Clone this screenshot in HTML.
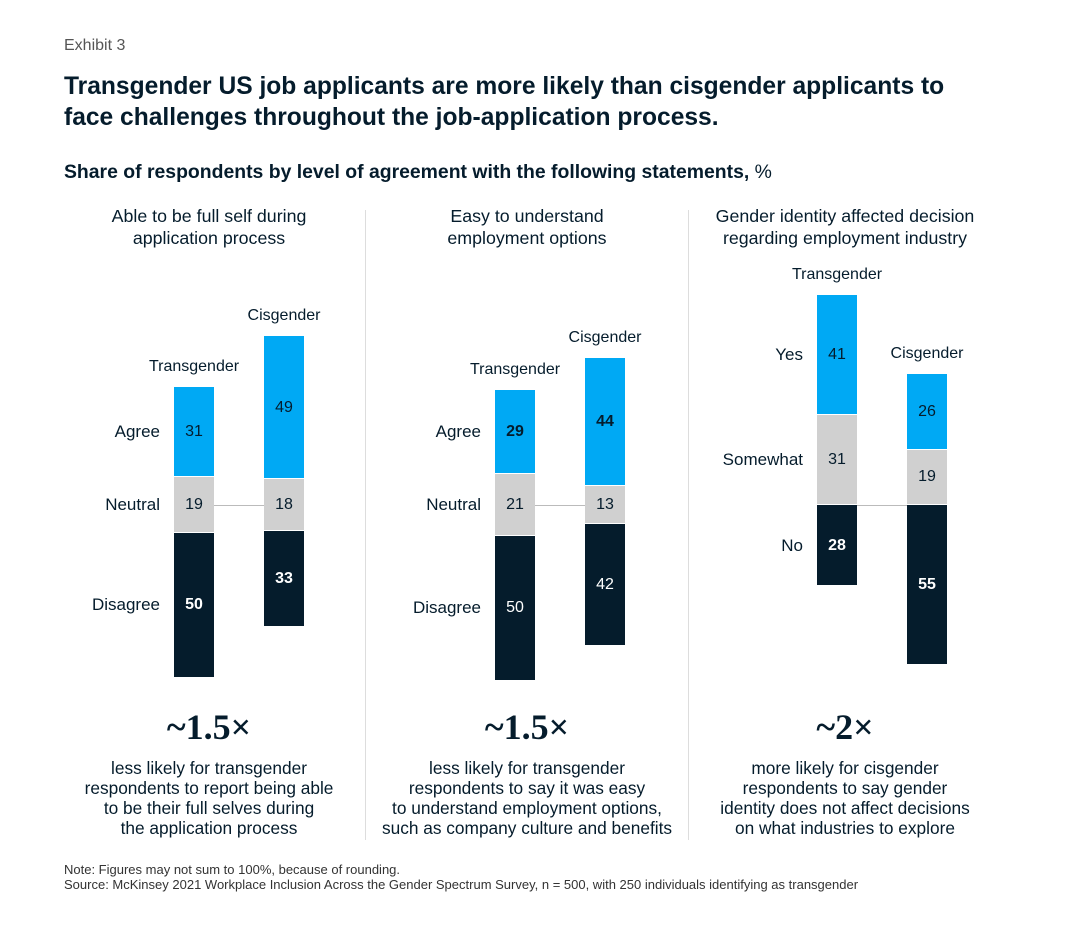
<!DOCTYPE html>
<html><head><meta charset="utf-8">
<style>
body{margin:0;background:#fff;font-family:"Liberation Sans",Arial,sans-serif;color:#051c2c}
#root{position:relative;width:1080px;height:925px;overflow:hidden}
.t{position:absolute;white-space:nowrap}
.c{text-align:center}
</style></head><body>
<div id="root">
<div class="t" style="left:64px;top:37px;font-size:16px;color:#555">Exhibit 3</div>
<div class="t" style="left:64px;top:71px;font-size:24.6px;font-weight:bold;line-height:31px">Transgender US job applicants are more likely than cisgender applicants to<br>face challenges throughout the job-application process.</div>
<div class="t" style="left:64px;top:161px;font-size:19.4px;font-weight:bold">Share of respondents by level of agreement with the following statements, <span style="font-weight:normal">%</span></div>
<div style="position:absolute;left:365px;top:210px;width:1px;height:630px;background:#ddd"></div>
<div style="position:absolute;left:688px;top:210px;width:1px;height:630px;background:#ddd"></div>
<div class="t" style="top:862px;font-size:13px;line-height:15px;color:#333;left:64px">Note: Figures may not sum to 100%, because of rounding.<br>Source: McKinsey 2021 Workplace Inclusion Across the Gender Spectrum Survey, n = 500, with 250 individuals identifying as transgender</div>
</div>
<script>
const panelTitles=[["Able to be full self during","application process"],["Easy to understand","employment options"],["Gender identity affected decision","regarding employment industry"]];
const categories=[["Agree","Neutral","Disagree"],["Agree","Neutral","Disagree"],["Yes","Somewhat","No"]];
const transValues=[[31,19,50],[29,21,50],[41,31,28]];
const cisValues=[[49,18,33],[44,13,42],[26,19,55]];
const boldSeg=[2,0,2];
const bigStats=["~1.5×","~1.5×","~2×"];
const notes=[["less likely for transgender","respondents to report being able","to be their full selves during","the application process"],["less likely for transgender","respondents to say it was easy","to understand employment options,","such as company culture and benefits"],["more likely for cisgender","respondents to say gender","identity does not affect decisions","on what industries to explore"]];
const root=document.getElementById('root');
const pxPer=2.91, anchorY=505;
const panelCenters=[209,527,845], transX=[174,495,817], cisX=[264,585,907], barW=40;
const colors=["#00a9f4","#d0d0d0","#051c2c"], txt=["#051c2c","#051c2c","#fff"];
function y(v){return v*pxPer;}
function mk(tag,cls,style,html){const e=document.createElement(tag);if(cls)e.className=cls;e.style.cssText=style;if(html!==undefined)e.innerHTML=html;root.appendChild(e);return e;}
for(let p=0;p<3;p++){
 const cx=panelCenters[p];
 let e=mk('div','t c',`left:${cx-200}px;width:400px;top:205px;font-size:17.8px;line-height:22px`,panelTitles[p].join('<br>'));
 
 
 const series=[[transValues[p],transX[p],'Transgender'],[cisValues[p],cisX[p],'Cisgender']];
 let transTops=[];
 series.forEach((s,si)=>{
  const vals=s[0];
  let top = p<2 ? anchorY - y(vals[0]) - y(vals[1])/2 : anchorY - y(vals[0]) - y(vals[1]);
  let lab=mk('div','t c',`left:${s[1]-50}px;width:${barW+100}px;top:${top-29}px;font-size:16px`,s[2]);
  
  
  let cur=top;
  vals.forEach((v,i)=>{
   const h=y(v);
   const b=mk('div','',`position:absolute;left:${s[1]}px;top:${cur}px;width:${barW}px;height:${h}px;background:${colors[i]};border-bottom:1px solid #fff;box-sizing:border-box`);
   
   
   const l=mk('div','t c',`left:${s[1]}px;width:${barW}px;top:${cur+h/2-9}px;font-size:16px;color:${txt[i]};font-weight:${i===boldSeg[p]?'bold':'normal'}`,v);
   
   
   if(si===0)transTops.push(cur+h/2);
   cur+=h;
  });
 });
 transTops.forEach((cy,i)=>{
  const l=mk('div','t',`left:${transX[p]-162}px;width:148px;text-align:right;top:${cy-10}px;font-size:17px`,categories[p][i]);
  
  
 });
 const ln=mk('div','',`position:absolute;left:${transX[p]+barW}px;top:${anchorY}px;width:${cisX[p]-transX[p]-barW}px;height:1px;background:#bbb`);
 
 
 const st=mk('div','t c',`left:${cx-150}px;width:300px;top:706px;font-size:36px;font-family:'Liberation Serif',serif;font-weight:bold`,bigStats[p]);
 
 
 const n=mk('div','t c',`left:${cx-170}px;width:340px;top:758px;font-size:17.3px;line-height:20px`,notes[p].join('<br>'));
 
 
}
</script>
</body></html>
